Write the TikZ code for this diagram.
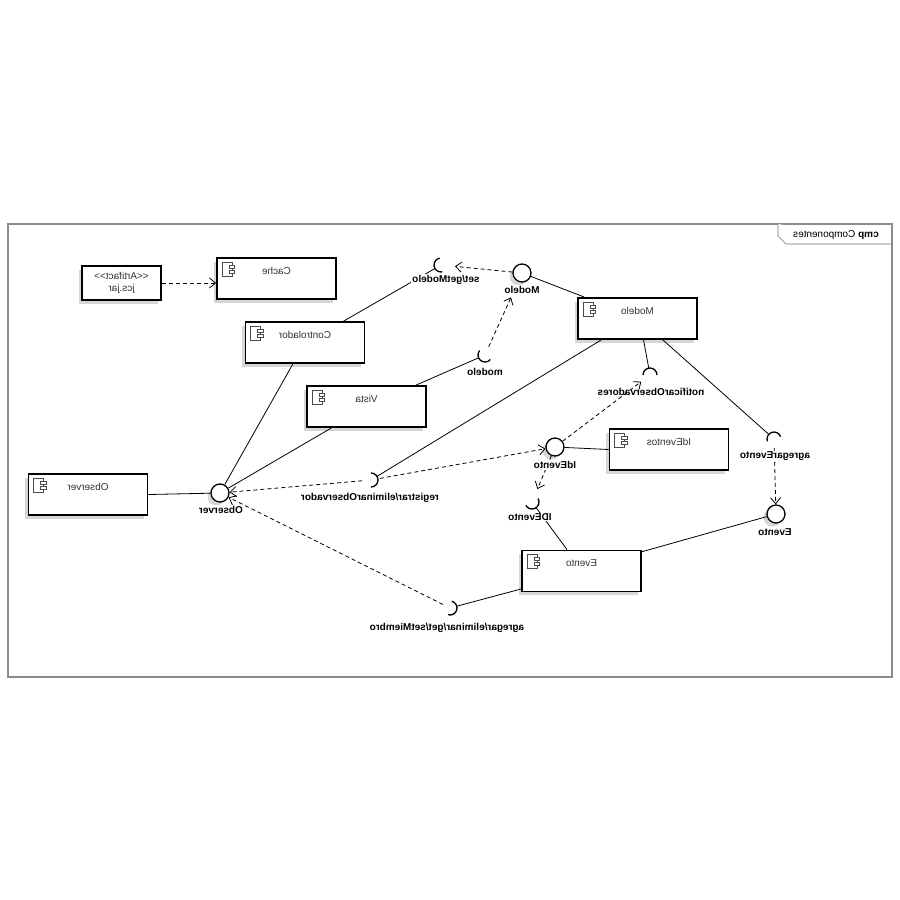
\documentclass[tikz,border=0pt]{standalone}
\usepackage{fontspec}
\setmainfont{Liberation Sans}
\usepackage{graphicx}
\usetikzlibrary{arrows.meta,calc}
\newcommand{\mtext}[1]{\scalebox{-1}[1]{#1}}

\tikzset{
  softshadow/.style={preaction={fill=black!16, draw=none, transform canvas={xshift=-3.5pt,yshift=-3.5pt}}},
  compbox/.style={rectangle, draw=black, line width=1.8pt, fill=white, inner sep=0pt,
    minimum width=119pt, minimum height=41pt, text height=7pt, text depth=16pt,
    font=\fontsize{10}{12}\selectfont, text=black!80, softshadow},
  artbox/.style={rectangle, draw=black, line width=1.8pt, fill=white, inner sep=0pt,
    minimum width=79pt, minimum height=34pt, font=\fontsize{10}{12}\selectfont,
    text=black!80, softshadow},
  lolli/.style={circle, draw=black, line width=1.3pt, fill=white, minimum size=18pt,
    inner sep=0pt, softshadow},
  ilabel/.style={font=\fontsize{10}{12}\selectfont\bfseries, fill=white, inner sep=1pt},
  conn/.style={line width=0.8pt},
  dep/.style={line width=0.8pt, dash pattern=on 4pt off 3pt,
    -{Straight Barb[length=6pt,width=10pt,line width=0.8pt]}},
  cicon/.pic={
    \draw[line width=0.6pt, draw=black!70, fill=white] (0,0) rectangle (10,14);
    \draw[line width=0.6pt, draw=black!70, fill=white] (7,3) rectangle (12.5,6) (7,8) rectangle (12.5,11);
  },
  socket/.pic={
    \draw[line width=1.3pt] (#1+90:7) arc[start angle=#1+90, delta angle=180, radius=7];
  }
}

\begin{document}
\begin{tikzpicture}[x=1pt,y=-1pt]
\useasboundingbox (0,0) rectangle (900,900);

% diagram frame and its name tab
\draw[line width=1.6pt, draw=black!45] (8,224) rectangle (892,677);
\draw[line width=0.7pt, draw=black!55, fill=white] (778,224) -- (778,236) -- (786,244) -- (891,244);
\node[font=\fontsize{10}{12}\selectfont, inner sep=0pt] (tab) at (836,235) {\mtext{\textbf{cmp} Componentes}};

% components
\node[compbox] (cache) at (276.5,278.5) {\mtext{Cache}};
\node[compbox] (contr) at (305,342.5) {\mtext{Controlador}};
\node[compbox] (vista) at (366.5,406.5) {\mtext{Vista}};
\node[compbox] (observer) at (88,494.5) {\mtext{Observer}};
\node[compbox] (modelo) at (637.5,318.5) {\mtext{Modelo}};
\node[compbox] (ideventos) at (669,449.5) {\mtext{IdEventos}};
\node[compbox] (evento) at (581.5,571) {\mtext{Evento}};
\node[artbox] (jar) at (121.5,283) {\mtext{\begin{tabular}{@{}c@{}}<{}<Artifact>{}>\\jcs.jar\end{tabular}}};

\foreach \b in {cache,contr,vista,observer,modelo,ideventos,evento}
  \pic at ($(\b.north west)+(6,5)$) {cicon};

% provided interfaces
\node[lolli] (obsI) at (220,493) {};
\node[lolli] (modI) at (522,273) {};
\node[lolli] (idI) at (555,447) {};
\node[lolli] (evI) at (776,514) {};

% required interfaces
\coordinate (sgm) at (441,265);
\coordinate (mdl) at (485,355);
\coordinate (noti) at (650,375);
\coordinate (agr) at (774,439);
\coordinate (reg) at (371,480);
\coordinate (ide) at (532,502);
\coordinate (mie) at (450,608);

% assembly lines
\draw[conn] (observer.east) -- (obsI);
\draw[conn] ($(contr.south west)!0.4!(contr.south east)$) -- (obsI);
\draw[conn] ($(vista.south west)!0.21!(vista.south east)$) -- (obsI);
\draw[conn, shorten >=7pt] ($(contr.north west)!0.82!(contr.north east)$) -- (sgm);
\draw[conn, shorten >=7pt] ($(vista.north west)!0.91!(vista.north east)$) -- (mdl);
\draw[conn] ($(modelo.north west)!0.06!(modelo.north east)$) -- (modI);
\draw[conn, shorten >=7pt] ($(modelo.south west)!0.2!(modelo.south east)$) -- (reg);
\draw[conn, shorten >=7pt] ($(modelo.south west)!0.55!(modelo.south east)$) -- (noti);
\draw[conn, shorten >=7pt] ($(modelo.south west)!0.71!(modelo.south east)$) -- (agr);
\draw[conn] (idI) -- (ideventos.west);
\draw[conn, shorten <=7pt] (ide) -- ($(evento.north west)!0.38!(evento.north east)$);
\draw[conn, shorten <=7pt] (mie) -- ($(evento.north west)!0.92!(evento.south west)$);
\draw[conn] (evI) -- ($(evento.north east)!0.05!(evento.south east)$);

% dependencies
\draw[dep] (jar.east) -- (cache.west |- jar.east);
\draw[dep, shorten >=14pt] (modI) -- (sgm);
\draw[dep, shorten <=9pt, shorten >=17pt] (mdl) -- (modI);
\draw[dep, shorten <=9pt] (reg) -- (obsI);
\draw[dep, shorten <=9pt] (reg) -- (idI);
\draw[dep, shorten >=11pt] (idI) -- (noti);
\draw[dep, shorten >=14pt] (idI) -- (ide);
\draw[dep, shorten <=9pt] (agr) -- (evI);
\draw[dep, shorten <=8pt] (mie) -- (obsI);

% sockets
\pic at (sgm) {socket=-10};
\pic at (mdl) {socket=-50};
\pic at (noti) {socket=90};
\pic at (agr) {socket=70};
\pic at (reg) {socket=180};
\pic at (ide) {socket=-120};
\pic at (mie) {socket=-165};

% interface names
\node[ilabel] (obsL) at (221,510) {\mtext{Observer}};
\node[ilabel] (modL) at (522,290) {\mtext{Modelo}};
\node[ilabel] (sgmL) at (446,280) {\mtext{set/getModelo}};
\node[ilabel] (mdlL) at (485,372) {\mtext{modelo}};
\node[ilabel, fill=none] (notiL) at (651,392) {\mtext{notificarObservadores}};
\node[ilabel] (agrL) at (775,456) {\mtext{agregarEvento}};
\node[ilabel] (regL) at (370,498) {\mtext{registrar/eliminarObservador}};
\node[ilabel] (idL) at (555,465) {\mtext{IdEvento}};
\node[ilabel] (ideL) at (530,517) {\mtext{IDEvento}};
\node[ilabel] (evL) at (775,532) {\mtext{Evento}};
\node[ilabel] (mieL) at (447,628) {\mtext{agregar/eliminar/get/setMiembro}};
\end{tikzpicture}
\end{document}
